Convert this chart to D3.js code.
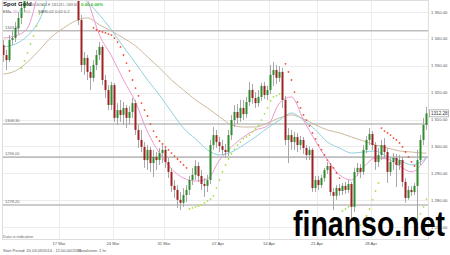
<!DOCTYPE html>
<html><head><meta charset="utf-8">
<script src="https://cdn.jsdelivr.net/npm/d3@7"></script>
<style>html,body{margin:0;padding:0;background:#fff;}svg{display:block;font-family:"Liberation Sans",Arial,sans-serif;}</style>
</head><body><svg id="c" width="450" height="255"></svg>
<script>
const opens=[1337.7,1334.0,1332.1,1339.6,1340.3,1344.1,1347.8,1351.5,1354.5,1357.5,
1360.1,1358.2,1361.9,1364.9,1363.4,1366.4,1368.6,1365.6,1367.9,1364.9,
1367.1,1364.1,1361.2,1362.7,1359.7,1358.2,1347.0,1330.3,1332.9,1327.7,
1325.5,1330.3,1334.0,1337.0,1324.7,1321.0,1315.4,1322.8,1310.6,1313.5,
1311.7,1314.3,1310.6,1312.8,1316.1,1306.1,1302.4,1299.8,1294.9,1298.7,
1293.8,1296.1,1294.9,1297.5,1298.7,1294.2,1290.5,1285.3,1283.8,1280.1,
1279.0,1281.9,1283.8,1287.5,1289.4,1292.7,1289.0,1286.0,1285.3,1287.5,
1300.5,1304.2,1301.6,1300.1,1298.7,1297.9,1304.2,1309.8,1312.8,1310.6,
1314.3,1312.0,1316.5,1321.0,1318.0,1316.1,1318.4,1322.5,1319.1,1321.0,
1326.6,1328.4,1325.5,1327.7,1317.3,1302.4,1304.2,1301.6,1303.5,1300.5,
1302.4,1299.4,1296.8,1298.7,1284.5,1287.5,1285.6,1288.2,1291.2,1292.7,
1283.0,1281.6,1284.5,1283.4,1285.3,1283.8,1286.0,1277.5,1290.5,1292.0,
1290.5,1298.7,1302.4,1304.6,1300.5,1294.2,1296.8,1300.5,1297.9,1290.5,
1294.2,1295.7,1293.1,1294.9,1286.8,1280.8,1283.8,1283.0,1285.3,1294.9,
1302.4,1308.0];
const highs=[1339.6,1335.9,1341.4,1343.3,1346.3,1350.0,1353.7,1356.3,1359.7,1361.9,
1362.7,1364.1,1367.1,1367.9,1369.4,1371.2,1370.9,1370.1,1369.4,1368.6,
1368.6,1365.6,1364.9,1364.1,1361.9,1363.8,1348.9,1335.1,1334.0,1329.9,
1332.1,1335.9,1338.8,1337.7,1326.6,1322.8,1324.0,1323.6,1316.1,1317.3,
1316.5,1315.4,1315.0,1318.0,1317.3,1308.0,1306.1,1301.6,1300.5,1299.8,
1298.7,1297.9,1299.4,1300.5,1299.4,1295.7,1292.0,1287.5,1285.6,1283.0,
1284.5,1285.6,1289.0,1292.0,1294.9,1294.2,1291.2,1288.2,1289.4,1302.4,
1307.2,1306.1,1303.5,1302.4,1300.9,1306.1,1311.7,1315.4,1315.8,1317.3,
1317.3,1318.4,1324.0,1323.2,1320.2,1321.0,1323.6,1324.0,1322.5,1330.3,
1331.4,1330.3,1329.9,1329.2,1318.8,1306.8,1306.1,1305.4,1305.0,1303.9,
1303.5,1300.5,1300.1,1299.4,1289.0,1289.0,1289.4,1292.0,1294.2,1293.4,
1284.5,1285.6,1286.0,1286.4,1286.8,1287.5,1286.8,1292.0,1293.8,1293.4,
1300.5,1303.9,1306.8,1305.7,1301.6,1299.4,1302.4,1303.1,1299.4,1295.7,
1297.5,1297.2,1296.8,1296.1,1288.2,1285.3,1285.3,1286.4,1298.7,1304.2,
1310.6,1314.7];
const lows=[1331.4,1328.4,1331.4,1337.7,1338.8,1341.8,1345.5,1350.0,1353.0,1356.0,
1356.3,1356.7,1360.4,1361.2,1361.9,1364.9,1363.8,1364.1,1362.7,1362.7,
1361.9,1359.0,1359.0,1357.5,1356.0,1345.2,1327.7,1326.6,1324.7,1321.0,
1324.0,1328.4,1332.1,1322.8,1318.0,1313.5,1313.5,1309.1,1308.0,1309.1,
1308.0,1306.8,1308.0,1310.6,1304.2,1299.4,1297.9,1292.0,1291.2,1290.5,
1288.6,1291.2,1293.1,1293.8,1292.0,1288.2,1283.0,1280.8,1277.1,1276.3,
1277.5,1279.3,1281.9,1285.6,1287.5,1286.8,1283.8,1281.2,1283.0,1286.0,
1298.7,1299.4,1297.9,1296.8,1295.7,1296.4,1302.4,1307.2,1308.3,1309.1,
1309.8,1310.6,1315.0,1315.8,1314.3,1314.7,1316.9,1317.6,1317.3,1319.5,
1322.5,1323.2,1324.0,1314.3,1300.5,1293.8,1298.7,1298.7,1297.9,1298.7,
1297.2,1294.9,1294.9,1283.0,1283.0,1283.8,1284.5,1286.8,1289.7,1281.6,
1276.3,1280.1,1281.6,1281.9,1282.3,1282.7,1271.9,1275.6,1289.0,1288.2,
1289.4,1297.5,1300.5,1298.7,1291.2,1292.3,1294.9,1295.7,1286.4,1289.0,
1291.2,1284.9,1291.2,1284.9,1279.0,1280.1,1281.6,1281.9,1272.6,1293.1,
1300.5,1306.1];
const closes=[1334.0,1332.1,1339.6,1340.3,1344.1,1347.8,1351.5,1354.5,1357.5,1360.1,
1358.2,1361.9,1364.9,1363.4,1366.4,1368.6,1365.6,1367.9,1364.9,1367.1,
1364.1,1361.2,1362.7,1359.7,1358.2,1347.0,1330.3,1332.9,1327.7,1325.5,
1330.3,1334.0,1337.0,1324.7,1321.0,1315.4,1322.8,1310.6,1313.5,1311.7,
1314.3,1310.6,1312.8,1316.1,1306.1,1302.4,1299.8,1294.9,1298.7,1293.8,
1296.1,1294.9,1297.5,1298.7,1294.2,1290.5,1285.3,1283.8,1280.1,1279.0,
1281.9,1283.8,1287.5,1289.4,1292.7,1289.0,1286.0,1285.3,1287.5,1300.5,
1304.2,1301.6,1300.1,1298.7,1297.9,1304.2,1309.8,1312.8,1310.6,1314.3,
1312.0,1316.5,1321.0,1318.0,1316.1,1318.4,1322.5,1319.1,1321.0,1326.6,
1328.4,1325.5,1327.7,1317.3,1302.4,1304.2,1301.6,1303.5,1300.5,1302.4,
1299.4,1296.8,1298.7,1284.5,1287.5,1285.6,1288.2,1291.2,1292.7,1283.0,
1281.6,1284.5,1283.4,1285.3,1283.8,1286.0,1277.5,1290.5,1292.0,1290.5,
1298.7,1302.4,1304.6,1300.5,1294.2,1296.8,1300.5,1297.9,1290.5,1294.2,
1295.7,1293.1,1294.9,1286.8,1280.8,1283.8,1283.0,1285.3,1294.9,1302.4,
1308.0,1312.28];
const sar=[null,null,null,null,null,null,
1329.2,1331.8,1334.8,1338.1,1341.1,1344.8,1349.3,1352.6,
null,null,null,null,null,null,null,null,null,null,null,null,null,null,null,null,
1344.1,1343.3,1342.9,1342.6,1342.2,1341.8,1341.4,1340.3,1338.8,1337.0,1334.0,1331.0,1328.1,1324.7,1321.7,1318.8,
1316.1,1313.5,1311.3,1308.3,1305.7,1303.5,1302.0,1300.9,1299.8,1298.7,1297.5,1296.4,1295.3,1294.2,1293.1,1292.0,
1276.7,1277.1,1277.5,1277.8,1278.2,1279.0,1279.7,1280.4,1281.6,1284.5,1287.5,1290.5,1293.1,1295.3,1297.2,1299.0,
1300.5,1301.6,1302.8,1303.5,1304.2,1305.4,1306.5,1307.6,1309.8,1312.1,1314.3,1316.9,1318.4,1318.8,1319.5,
null,
1330.7,1327.7,1324.7,1320.2,1316.5,1314.3,1311.7,1309.8,1307.6,1305.0,1302.8,1300.5,1298.7,1296.8,1294.9,1293.4,1292.0,1290.1,1288.2,
1276.0,1276.7,1277.5,
null,null,
1268.9,1270.7,1272.2,1274.1,1276.7,1280.1,1283.4,1286.4,
1306.8,1305.7,1305.0,1304.2,1303.1,1302.4,1301.3,1299.8,1297.9,1296.1,1294.2,1292.7,
1273.4,1274.9,1277.5,1280.4];
const emaIdx=[0,4,8,12,16,20,24,28,32,36,40,44,48,52,56,60,64,68,72,76,80,84,88,92,96,100,104,108,112,116,120,124,128,132,136,140,141];
const ema20=[1340.3,1341.1,1344.0,1358.2,1365.6,1367.5,1363.8,1354.5,1341.4,1333.6,1324.7,1316.5,1305.4,1297.5,1291.6,1288.2,1287.1,1287.9,1294.9,1299.8,1303.5,1306.1,1307.6,1316.1,1318.4,1309.8,1302.0,1294.9,1289.4,1287.5,1292.3,1295.7,1295.3,1292.7,1290.5,1294.2,1295.7];
const ema50=[1337.0,1338.1,1341.1,1347.0,1357.5,1359.0,1357.5,1353.7,1348.9,1343.3,1337.0,1331.0,1324.7,1319.1,1312.8,1306.8,1302.8,1298.7,1296.8,1297.9,1300.5,1303.5,1306.8,1309.8,1312.4,1309.8,1306.1,1301.6,1299.4,1297.5,1297.9,1298.3,1296.1,1294.9,1293.1,1294.9,1296.1];
const ema100=[1326.9,1328.1,1331.4,1335.9,1340.7,1344.0,1346.7,1347.8,1345.2,1342.9,1340.3,1337.4,1333.3,1329.2,1324.7,1321.0,1317.3,1314.3,1311.0,1308.0,1307.2,1307.2,1308.7,1310.6,1311.7,1310.2,1308.0,1306.1,1305.0,1303.5,1302.0,1300.5,1299.4,1298.3,1297.9,1297.5,1297.5];
const priceTicks=[1350,1340,1330,1320,1310,1300,1290,1280,1270];
const levels=[1343.0,1308.3,1296.0,1278.2];
const dateTickIdx=[19,37,54,72,89,105,123];
const dateTickLabels=["17 Mar","24 Mar","31 Mar","07 Apr","14 Apr","21 Apr","28 Apr"];
const lastPrice=1312.28;

const svg=d3.select("#c");
const N=closes.length;
const x=d3.scaleLinear().domain([-0.5,N-0.5]).range([2,428]);
const y=d3.scaleLinear().domain([1270,1350]).range([227,12]);
const P={l:2,r:429,t:0,b:240};

svg.append("defs").append("clipPath").attr("id","clip").append("rect")
  .attr("x",P.l).attr("y",P.t).attr("width",P.r-P.l).attr("height",P.b-P.t);
const g=svg.append("g").attr("clip-path","url(#clip)");

// grid
g.selectAll(".hg").data(priceTicks).enter().append("line")
  .attr("x1",P.l).attr("x2",P.r).attr("y1",d=>Math.round(y(d))+0.5).attr("y2",d=>Math.round(y(d))+0.5)
  .attr("stroke","#ececec").attr("stroke-width",1);
g.selectAll(".vg").data(dateTickIdx).enter().append("line")
  .attr("x1",d=>Math.round(x(d-0.5))+0.5).attr("x2",d=>Math.round(x(d-0.5))+0.5).attr("y1",P.t).attr("y2",P.b)
  .attr("stroke","#ececec").attr("stroke-width",1);

// level lines
g.selectAll(".lv").data(levels).enter().append("line")
  .attr("x1",P.l).attr("x2",P.r).attr("y1",d=>y(d)).attr("y2",d=>y(d))
  .attr("stroke","#bdbdbd").attr("stroke-width",1.6);
svg.selectAll(".lvt").data(levels).enter().append("text")
  .attr("x",5).attr("y",d=>y(d)-2).attr("font-size",4).attr("fill","#666")
  .text(d=>d3.format(".2f")(d));

// EMAs
const emaLine=arr=>d3.line().curve(d3.curveMonotoneX).x((d,i)=>x(emaIdx[i])).y(d=>y(d))(arr);
[[ema100,"#cdb89c"],[ema50,"#8fd0de"],[ema20,"#ec9ad0"]].forEach(([a,c])=>{
  g.append("path").attr("d",emaLine(a)).attr("fill","none").attr("stroke",c).attr("stroke-width",1);
});

// candles
const cd=d3.range(N).map(i=>({i,o:opens[i],h:highs[i],l:lows[i],c:closes[i]}));
g.selectAll(".wk").data(cd).enter().append("line")
  .attr("x1",d=>x(d.i)).attr("x2",d=>x(d.i))
  .attr("y1",d=>y(Math.max(d.h,d.o,d.c))).attr("y2",d=>y(Math.min(d.l,d.o,d.c)))
  .attr("stroke","#a8a8a8").attr("stroke-width",1);
g.selectAll(".bd").data(cd).enter().append("rect")
  .attr("x",d=>x(d.i)-1).attr("width",2)
  .attr("y",d=>y(Math.max(d.o,d.c)))
  .attr("height",d=>Math.max(1,Math.abs(y(d.o)-y(d.c))))
  .attr("fill",d=>d.c>=d.o?"#2e8b2e":"#9e2222");

// SAR
const sd=d3.range(N).filter(i=>sar[i]!==null).map(i=>({i,v:sar[i],up:sar[i]<closes[i]}));
g.selectAll(".sr").data(sd).enter().append("circle")
  .attr("cx",d=>x(d.i)).attr("cy",d=>y(d.v)).attr("r",0.9)
  .attr("fill",d=>d.up?"#a6e048":"#f04a32");

// frame
svg.append("rect").attr("x",P.l+0.5).attr("y",P.t+0.5).attr("width",P.r-P.l-1).attr("height",P.b-P.t-1)
  .attr("fill","none").attr("stroke","#dedede").attr("stroke-width",1);

// right axis
svg.selectAll(".rt").data(priceTicks).enter().append("text")
  .attr("x",431).attr("y",d=>y(d)+1.5).attr("font-size",4.2).attr("fill","#555")
  .text(d=>{const s=d3.format(".2f")(d);return s[0]+" "+s.slice(1);});
// last price box
const ly=y(lastPrice);
svg.append("rect").attr("x",429.5).attr("y",ly-3.5).attr("width",19).attr("height",7)
  .attr("fill","#fff").attr("stroke","#888").attr("stroke-width",0.6);
svg.append("text").attr("x",431).attr("y",ly+1.6).attr("font-size",4.6).attr("fill","#333")
  .text(d3.format(".2f")(lastPrice));

// x axis labels
svg.selectAll(".xt").data(dateTickIdx).enter().append("text")
  .attr("x",(d,i)=>x(d-0.5)).attr("y",245).attr("text-anchor","middle")
  .attr("font-size",4.2).attr("fill","#555").text((d,i)=>dateTickLabels[i]);

// legend
svg.append("text").attr("x",3).attr("y",6).attr("font-size",6).attr("font-weight","bold").attr("fill","#111").text("Spot Gold");
svg.append("text").attr("x",28).attr("y",6).attr("font-size",3.8).attr("fill","#555")
  .attr("textLength",49).attr("lengthAdjust","spacingAndGlyphs").text("20.01.00/2014  H: 1313.23  L: 1309.00");
svg.append("text").attr("x",81).attr("y",6).attr("font-size",4.4).attr("font-weight","bold").attr("fill","#33bb33").text("0.00  0.00%");
const l2=svg.append("text").attr("y",13).attr("font-size",4).attr("fill","#555");
l2.append("tspan").attr("x",3).text("EMa");
l2.append("tspan").attr("x",13).attr("fill","#e07fc0").text("20");
l2.append("tspan").attr("x",18.5).attr("fill","#6cc0d4").text("50");
l2.append("tspan").attr("x",24).attr("fill","#bca07c").text("100");
l2.append("tspan").attr("x",38).text("SAR");
l2.append("tspan").attr("x",46).text("0.02  0.02  0.2");

// footer
svg.append("text").attr("x",3).attr("y",238).attr("font-size",4).attr("fill","#666").text("Data is indicative");
svg.append("text").attr("x",3).attr("y",252).attr("font-size",4).attr("fill","#555").text("Start Period: 20.03.09/2014 - 12.00.00/2014");
svg.append("text").attr("x",78).attr("y",252).attr("font-size",4).attr("fill","#555").text("Resolution: 1 hr");

// watermark
svg.append("text").attr("x",293).attr("y",236).attr("font-size",35).attr("font-weight","bold")
  .attr("fill","#000").attr("textLength",152).attr("lengthAdjust","spacingAndGlyphs").text("finanso.net");
</script></body></html>
